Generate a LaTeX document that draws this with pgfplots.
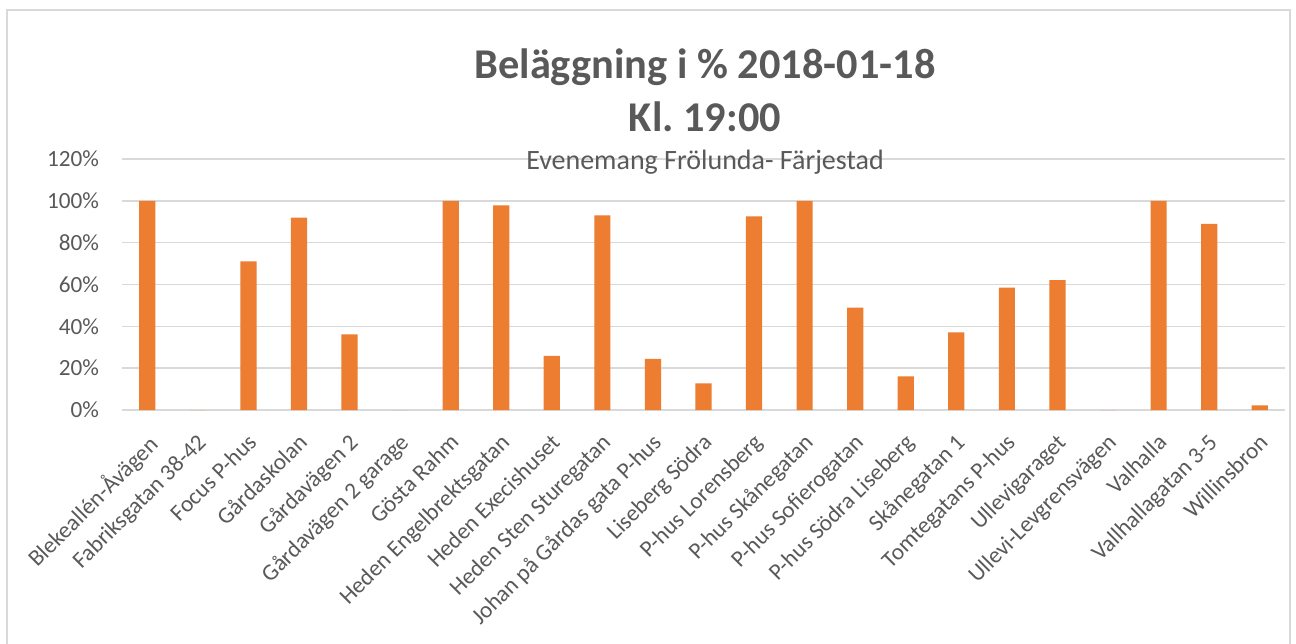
\documentclass[border=0pt]{standalone}
\usepackage{fontspec}
\setmainfont{Carlito}
\usepackage{pgfplots}
\usepackage{pgfplotstable}
\pgfplotsset{compat=1.18}
\definecolor{barorange}{HTML}{ED7D31}
\definecolor{txtgray}{HTML}{595959}
\definecolor{gridgray}{HTML}{D9D9D9}
\pgfplotstableread{
x y
0 100
1 0
2 71.1
3 92.0
4 36.2
5 0
6 100
7 97.8
8 25.9
9 93.1
10 24.5
11 12.7
12 92.6
13 100
14 48.9
15 16.1
16 37.1
17 58.5
18 62.1
19 0
20 100
21 89.0
22 2.2
}\datatable
\begin{document}
\begin{tikzpicture}
\begin{axis}[
  name=ax,
  scale only axis, width=581.5pt, height=125.5pt,
  xmin=-0.5, xmax=22.5, ymin=0, ymax=120,
  ytick={0,20,40,60,80,100,120},
  yticklabel={\pgfmathprintnumber{\tick}\%},
  /pgf/number format/assume math mode=true,
  xtick={0,...,22},
  xticklabels={Blekeallén-Åvägen,Fabriksgatan 38-42,Focus P-hus,Gårdaskolan,Gårdavägen 2,Gårdavägen 2 garage,Gösta Rahm,Heden Engelbrektsgatan,Heden Execishuset,Heden Sten Sturegatan,Johan på Gårdas gata P-hus,Liseberg Södra,P-hus Lorensberg,P-hus Skånegatan,P-hus Sofierogatan,P-hus Södra Liseberg,Skånegatan 1,Tomtegatans P-hus,Ullevigaraget,Ullevi-Levgrensvägen,Valhalla,Vallhallagatan 3-5,Willinsbron},
  major tick length=0pt,
  ymajorgrids, grid style={gridgray, line width=0.75pt},
  axis line style={draw=none},
  ticklabel style={font=\fontsize{11.6}{14}\selectfont, text=txtgray},
  yticklabel style={anchor=east, xshift=-8pt},
  xticklabel style={yshift=-9.5pt, xshift=-1pt, rotate=45, anchor=north east, inner sep=1pt},
  ybar, bar width=0.32, bar shift=0pt,
  clip=false,
]
\addplot[fill=barorange, draw=none] table[x=x,y=y] {\datatable};
\coordinate (O) at (rel axis cs:0,0);
\end{axis}
\pgfresetboundingbox
\coordinate (P) at ([xshift=-61pt,yshift=-116.5pt]O);
\path[use as bounding box] (P) rectangle ([xshift=648pt,yshift=321.5pt]P);
\begin{scope}[shift={(P)}, x=1pt, y=1pt]
\draw[gridgray, line width=0.75pt] (3.5,-10) -- (3.5,316.5) -- (645,316.5) -- (645,-10);
\node[text=txtgray, font=\fontsize{21.2}{24}\selectfont\bfseries] at (352.5,288) {Beläggning i \% 2018-01-18};
\node[text=txtgray, font=\fontsize{21.2}{24}\selectfont\bfseries] at (352.5,263) {Kl.\ 19:00};
\node[text=txtgray, font=\fontsize{14}{16}\selectfont] at (352.5,240.5) {Evenemang Frölunda- Färjestad};
\end{scope}
\end{tikzpicture}
\end{document}
